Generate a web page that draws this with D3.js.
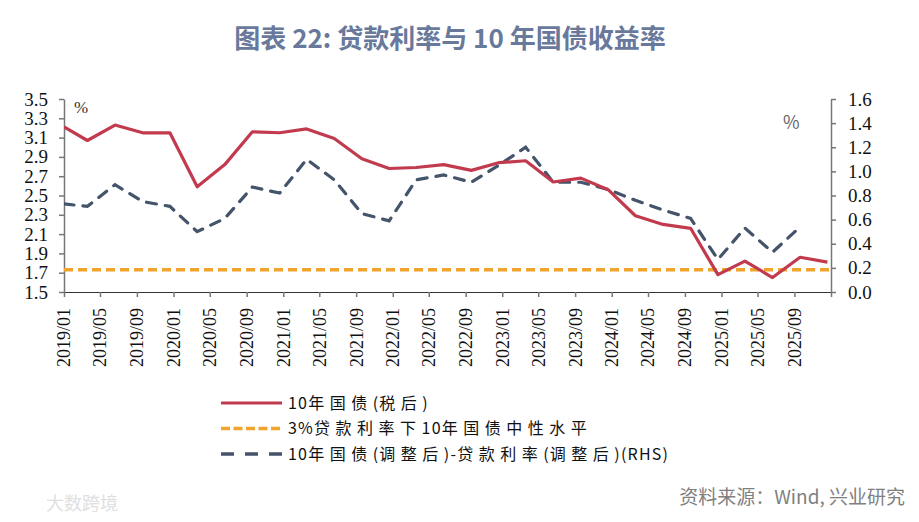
<!DOCTYPE html>
<html lang="zh">
<head>
<meta charset="UTF-8">
<title>贷款利率与10年国债收益率</title>
<script src="https://d3js.org/d3.v7.min.js"></script>
<style>
    body { margin: 0; background: #fff; }
</style>
</head>
<body>
<svg id="chart" width="919" height="522"></svg>
<script>
// quarterly observations (first point sits on the axis start)
const dates = ["2019-01-01",
    "2019-03-20", "2019-06-20", "2019-09-20", "2019-12-20",
    "2020-03-20", "2020-06-20", "2020-09-20", "2020-12-20",
    "2021-03-20", "2021-06-20", "2021-09-20", "2021-12-20",
    "2022-03-20", "2022-06-20", "2022-09-20", "2022-12-20",
    "2023-03-20", "2023-06-20", "2023-09-20", "2023-12-20",
    "2024-03-20", "2024-06-20", "2024-09-20", "2024-12-20",
    "2025-03-20", "2025-06-20", "2025-09-20", "2025-12-20"];

// 10年国债(税后), left axis
const bondAfterTax = [3.21,
    3.07, 3.23, 3.15, 3.15,
    2.59, 2.82, 3.16, 3.15,
    3.19, 3.09, 2.88, 2.78,
    2.79, 2.82, 2.76, 2.84,
    2.86, 2.64, 2.68, 2.56,
    2.29, 2.20, 2.16, 1.68,
    1.82, 1.65, 1.86, 1.81];

// 10年国债(调整后)-贷款利率(调整后), right axis (no value for last quarter)
const spreadRHS = [0.73,
    0.71, 0.89, 0.75, 0.71,
    0.50, 0.61, 0.87, 0.82,
    1.10, 0.93, 0.65, 0.59,
    0.93, 0.97, 0.91, 1.05,
    1.20, 0.91, 0.91, 0.85,
    0.76, 0.68, 0.61, 0.27,
    0.53, 0.33, 0.54, null];

// 3%贷款利率下10年国债中性水平
const neutralLevel = 1.73;

const leftTicks = [1.5, 1.7, 1.9, 2.1, 2.3, 2.5, 2.7, 2.9, 3.1, 3.3, 3.5];
const rightTicks = [0, 0.2, 0.4, 0.6, 0.8, 1.0, 1.2, 1.4, 1.6];

const legendNames = ["10年国债(税后)", "3%贷款利率下10年国债中性水平", "10年国债(调整后)-贷款利率(调整后)(RHS)"];

const SERIF = "'Liberation Serif', 'Times New Roman', serif";
const SANS = "'Noto Sans CJK SC', 'Noto Sans', sans-serif";

const parse = d3.timeParse("%Y-%m-%d");
const svg = d3.select("#chart").style("font-family", SANS);

const plot = {left: 64, right: 831, top: 99, bottom: 292};

const x = d3.scaleTime()
    .domain([new Date(2019, 0, 1), new Date(2026, 0, 1)])
    .range([plot.left, plot.right]);
const yL = d3.scaleLinear().domain([1.5, 3.5]).range([plot.bottom, plot.top]);
const yR = d3.scaleLinear().domain([0, 1.6]).range([plot.bottom, plot.top]);

const colors = {bond: "#C23A4E", neutral: "#F0A42B", spread: "#44546A"};

// title
svg.append("text")
    .attr("x", 450).attr("y", 48)
    .attr("text-anchor", "middle")
    .attr("font-size", 26).attr("font-weight", "bold")
    .attr("fill", "#68799B")
    .style("font-family", SANS)
    .text("图表 22: 贷款利率与 10 年国债收益率");

// axes
const xTicks = d3.timeMonth.every(4).range(new Date(2019, 0, 1), new Date(2026, 0, 2));
const gX = svg.append("g")
    .attr("transform", `translate(0,${plot.bottom})`)
    .call(d3.axisBottom(x).tickValues(xTicks).tickSize(5).tickSizeOuter(0)
        .tickFormat(d => d < new Date(2025, 11, 1) ? d3.timeFormat("%Y/%m")(d) : ""));
gX.select(".domain").attr("stroke", "#333").attr("stroke-width", 1.2);
gX.selectAll(".tick line").attr("stroke", "#777").attr("stroke-width", 1.5);
gX.selectAll(".tick text")
    .attr("transform", "rotate(-90)")
    .attr("text-anchor", "end")
    .attr("x", -16).attr("y", 0).attr("dy", "0.33em")
    .attr("font-size", 18).attr("fill", "#111")
    .attr("font-family", SERIF)
    .style("font-family", SERIF);

const gL = svg.append("g")
    .attr("transform", `translate(${plot.left},0)`)
    .call(d3.axisLeft(yL).tickValues(leftTicks).tickSize(5).tickSizeOuter(0).tickFormat(d3.format(".1f")));
gL.select(".domain").attr("stroke", "#777").attr("stroke-width", 1.5);
gL.selectAll(".tick line").attr("stroke", "#777").attr("stroke-width", 1.5);
gL.selectAll(".tick text").attr("font-size", 19).attr("fill", "#111").attr("x", -16)
    .attr("font-family", SERIF)
    .style("font-family", SERIF);

const gR = svg.append("g")
    .attr("transform", `translate(${plot.right},0)`)
    .call(d3.axisRight(yR).tickValues(rightTicks).tickSize(5).tickSizeOuter(0).tickFormat(d3.format(".1f")));
gR.select(".domain").attr("stroke", "#777").attr("stroke-width", 1.5);
gR.selectAll(".tick line").attr("stroke", "#777").attr("stroke-width", 1.5);
gR.selectAll(".tick text").attr("font-size", 19).attr("fill", "#111").attr("x", 17)
    .attr("font-family", SERIF)
    .style("font-family", SERIF);

// unit labels
svg.append("text").attr("x", 74).attr("y", 113)
    .style("font-family", SERIF).attr("font-size", 17).attr("fill", "#333").text("%");
svg.append("text").attr("x", 783).attr("y", 129)
    .attr("font-size", 18).attr("fill", "#666").text("%");

// series
svg.append("clipPath").attr("id", "plotclip").append("rect")
    .attr("x", plot.left).attr("y", plot.top - 10)
    .attr("width", plot.right - plot.left).attr("height", plot.bottom - plot.top + 20);

const bondData = dates.map((d, i) => ({date: parse(d), v: bondAfterTax[i]}));
const spreadData = dates.map((d, i) => ({date: parse(d), v: spreadRHS[i]}));

svg.append("line")
    .attr("x1", x(new Date(2019, 0, 1))).attr("x2", x(new Date(2026, 0, 1)))
    .attr("y1", yL(neutralLevel)).attr("y2", yL(neutralLevel))
    .attr("stroke", colors.neutral).attr("stroke-width", 3.5)
    .attr("stroke-dasharray", "9,5");

svg.append("path").datum(spreadData)
    .attr("clip-path", "url(#plotclip)")
    .attr("fill", "none").attr("stroke", colors.spread).attr("stroke-width", 3.2)
    .attr("stroke-dasharray", "10,9").attr("stroke-linecap", "round")
    .attr("d", d3.line().defined(d => d.v != null).x(d => x(d.date)).y(d => yR(d.v)));

svg.append("path").datum(bondData)
    .attr("clip-path", "url(#plotclip)")
    .attr("fill", "none").attr("stroke", colors.bond).attr("stroke-width", 3.2)
    .attr("stroke-linejoin", "round")
    .attr("d", d3.line().x(d => x(d.date)).y(d => yL(d.v)));

// legend: CJK glyphs are spaced wider than digits/latin in the original
const legend = svg.append("g").attr("transform", "translate(221,403)");
const legendStyles = [
    {c: colors.bond, dash: null, w: 3.2},
    {c: colors.neutral, dash: "9,3.5", w: 3.5},
    {c: colors.spread, dash: "13,11", w: 3.5}
];
const runs = s => s.match(/[\u4e00-\u9fff]+|[^\u4e00-\u9fff]+/g);
legendNames.forEach((name, i) => {
    const g = legend.append("g").attr("transform", `translate(0,${i * 25.5})`);
    g.append("line").attr("x1", 0).attr("x2", 61).attr("y1", 0).attr("y2", 0)
        .attr("stroke", legendStyles[i].c).attr("stroke-width", legendStyles[i].w)
        .attr("stroke-dasharray", legendStyles[i].dash);
    const t = g.append("text").attr("x", 67).attr("y", 0).attr("dy", "0.36em")
        .attr("font-size", 16).attr("fill", "#111");
    runs(name).forEach(r => {
        t.append("tspan")
            .attr("letter-spacing", /[\u4e00-\u9fff]/.test(r) ? 5.5 : 1.2)
            .text(r);
    });
});

// source
svg.append("text").attr("x", 905).attr("y", 504)
    .attr("text-anchor", "end").attr("font-size", 19).attr("fill", "#808080")
    .text("资料来源：Wind, 兴业研究");

// watermark
svg.append("text").attr("x", 46).attr("y", 510)
    .attr("font-size", 18).attr("fill", "#e0e0e0")
    .text("大数跨境");
</script>
</body>
</html>
